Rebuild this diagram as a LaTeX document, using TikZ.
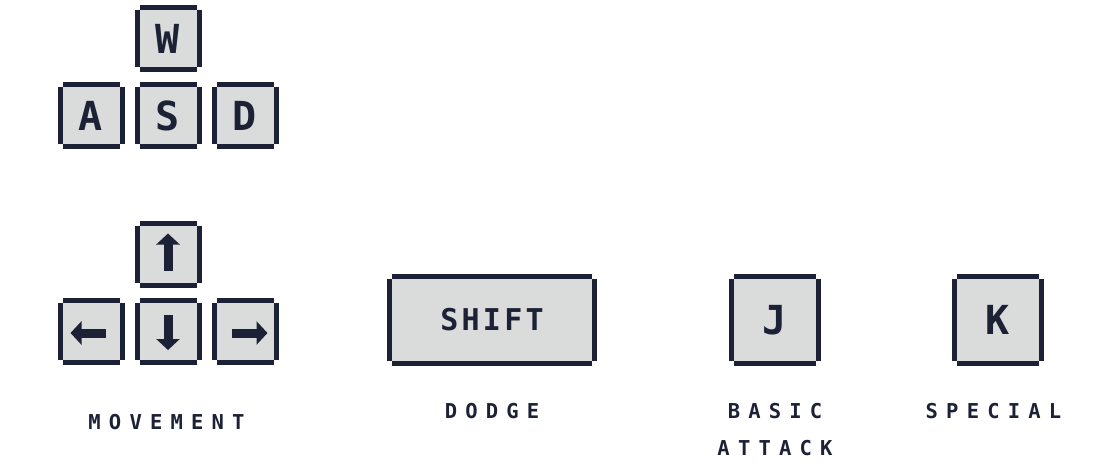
\documentclass[tikz,border=0pt]{standalone}
\usepackage{fontspec}
\usepackage{tikz}
\usetikzlibrary{positioning,arrows.meta}

\newfontfamily\capfont[LetterSpace=11]{DejaVu Sans Mono}
\newfontfamily\labelfont[LetterSpace=40]{DejaVu Sans Mono}
\definecolor{keyink}{RGB}{28,33,53}
\definecolor{keyface}{RGB}{217,220,219}

\begin{document}
\begin{tikzpicture}[
	x=1pt, y=-1pt,
	keycap/.style = {rectangle, fill=keyface, inner sep=0pt, outer sep=0pt,
		minimum width=57pt, minimum height=57pt, text=keyink,
		font=\capfont\bfseries\fontsize{40}{40}\selectfont},
	widecap/.style = {keycap, minimum width=82pt, minimum height=82pt},
	longcap/.style = {keycap, minimum width=200pt, minimum height=82pt,
		font=\capfont\bfseries\fontsize{30}{30}\selectfont},
	caption/.style = {text=keyink, align=center, inner sep=0pt,
		font=\labelfont\bfseries\fontsize{20.5}{37.5}\selectfont},
	glyph/.style = {keyink, line width=9pt,
		-{Triangle[width=23pt, length=11pt]}}
	]
	\useasboundingbox (0,0) rectangle (1110,469);

	% letter keys
	\node [keycap] (keyS) at (168,115.5) {S};
	\node [keycap, above=20pt of keyS] (keyW) {W};
	\node [keycap, left=20pt of keyS] (keyA) {A};
	\node [keycap, right=20pt of keyS] (keyD) {D};

	% arrow keys
	\node [keycap] (keyDown) at (168,331) {};
	\node [keycap, above=20pt of keyDown] (keyUp) {};
	\node [keycap, left=20pt of keyDown] (keyLeft) {};
	\node [keycap, right=20pt of keyDown] (keyRight) {};

	\node [longcap] (keyShift) at (492,320) {SHIFT};
	\node [widecap] (keyJ) at (775,320) {J};
	\node [widecap] (keyK) at (997.5,320) {K};

	\foreach \key in {keyW,keyA,keyS,keyD,keyUp,keyLeft,keyDown,keyRight,keyShift,keyJ,keyK} {
		\fill [keyink] (\key.north west) rectangle ([yshift=5pt]\key.north east);
		\fill [keyink] (\key.south west) rectangle ([yshift=-5pt]\key.south east);
		\fill [keyink] (\key.south west) rectangle ([xshift=-5pt]\key.north west);
		\fill [keyink] (\key.south east) rectangle ([xshift=5pt]\key.north east);
	}

	\draw [glyph] ([yshift=-16.5pt]keyUp.center) -- ([yshift=20.5pt]keyUp.center);
	\draw [glyph] ([yshift=16pt]keyDown.center) -- ([yshift=-19pt]keyDown.center);
	\draw [glyph] ([xshift=14.5pt,yshift=-2pt]keyLeft.center) -- ([xshift=-20.5pt,yshift=-2pt]keyLeft.center);
	\draw [glyph] ([xshift=-13.5pt,yshift=-2pt]keyRight.center) -- ([xshift=22.5pt,yshift=-2pt]keyRight.center);

	% captions
	\node [caption] (movement) at (166.5,422) {MOVEMENT};
	\node [caption] (dodge) at (492,411) {DODGE};
	\node [caption] (basic) at (775,429.75) {BASIC\\ATTACK};
	\node [caption] (special) at (993.5,411) {SPECIAL};
\end{tikzpicture}
\end{document}
